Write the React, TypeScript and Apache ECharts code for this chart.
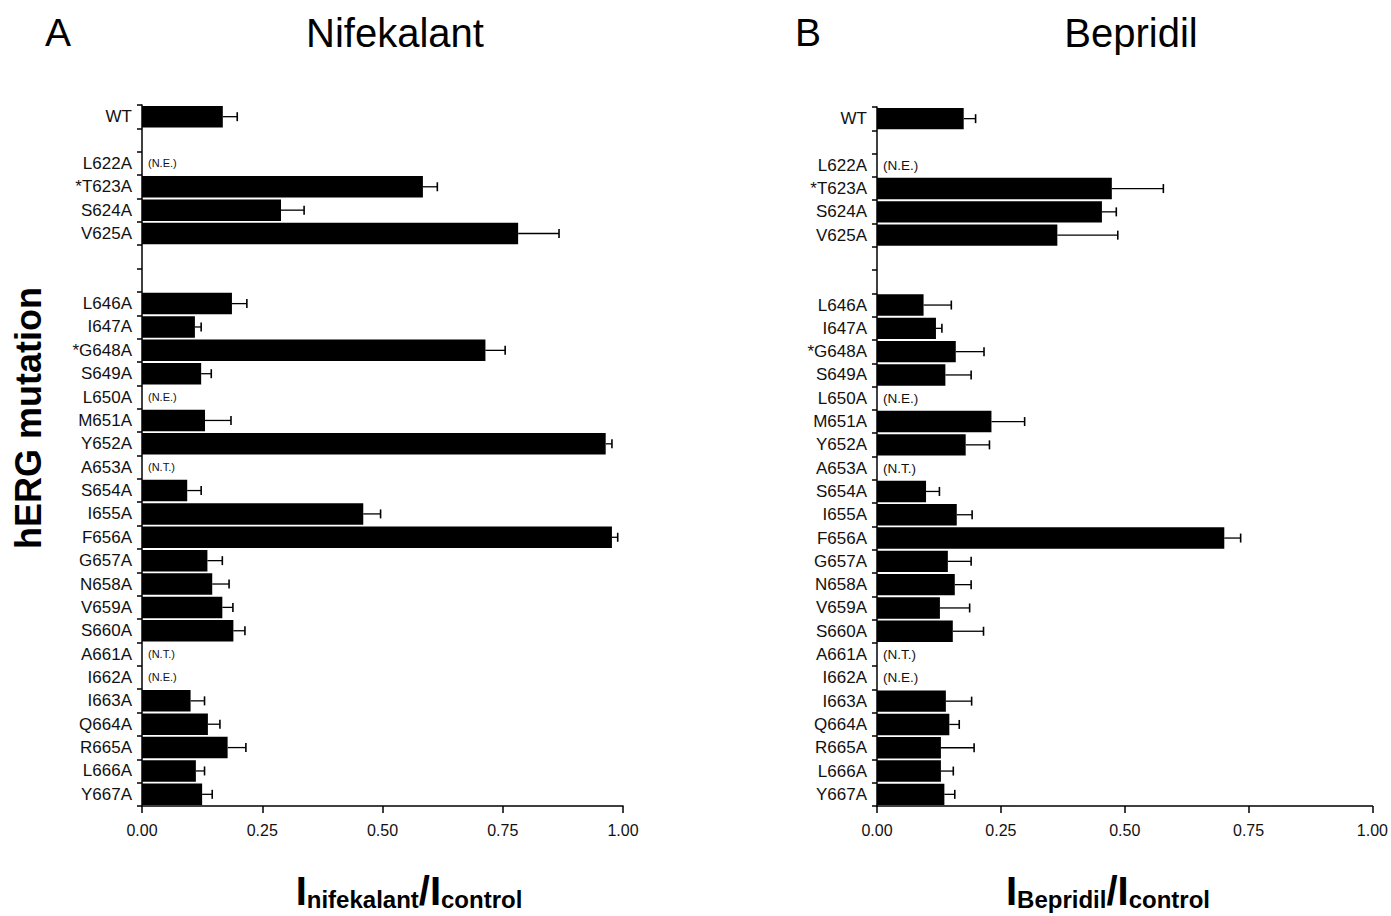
import React, { useEffect, useRef } from 'react';
import * as echarts from 'echarts';

const categories = [
  'WT', '', 'L622A', '*T623A', 'S624A', 'V625A', ' ', '  ',
  'L646A', 'I647A', '*G648A', 'S649A', 'L650A', 'M651A', 'Y652A', 'A653A',
  'S654A', 'I655A', 'F656A', 'G657A', 'N658A', 'V659A', 'S660A', 'A661A',
  'I662A', 'I663A', 'Q664A', 'R665A', 'L666A', 'Y667A',
];

const notes = [
  '', '', '(N.E.)', '', '', '', '', '',
  '', '', '', '', '(N.E.)', '', '', '(N.T.)',
  '', '', '', '', '', '', '', '(N.T.)',
  '(N.E.)', '', '', '', '', '',
];

const nifekalantMean = [
  0.168, null, null, 0.584, 0.289, 0.782, null, null,
  0.187, 0.110, 0.714, 0.123, null, 0.131, 0.964, null,
  0.094, 0.460, 0.977, 0.136, 0.146, 0.167, 0.190, null,
  null, 0.101, 0.137, 0.178, 0.112, 0.125,
];
const nifekalantSem = [
  0.030, null, null, 0.030, 0.048, 0.085, null, null,
  0.031, 0.013, 0.041, 0.021, null, 0.054, 0.013, null,
  0.029, 0.036, 0.012, 0.031, 0.035, 0.022, 0.024, null,
  null, 0.029, 0.025, 0.038, 0.018, 0.021,
];

const bepridilMean = [
  0.175, null, null, 0.474, 0.454, 0.364, null, null,
  0.094, 0.119, 0.159, 0.138, null, 0.231, 0.179, null,
  0.099, 0.161, 0.701, 0.143, 0.157, 0.127, 0.153, null,
  null, 0.139, 0.146, 0.129, 0.129, 0.136,
];
const bepridilSem = [
  0.024, null, null, 0.104, 0.029, 0.122, null, null,
  0.056, 0.012, 0.057, 0.052, null, 0.067, 0.048, null,
  0.027, 0.031, 0.033, 0.047, 0.033, 0.060, 0.062, null,
  null, 0.052, 0.020, 0.067, 0.025, 0.021,
];

const xTicks = [0, 0.25, 0.5, 0.75, 1.0];

const FONT = '"Liberation Sans", Arial, Helvetica, sans-serif';

function errData(means: (number | null)[], sems: (number | null)[]) {
  const out: number[][] = [];
  means.forEach((m, i) => {
    if (m != null && sems[i] != null) out.push([m, i, sems[i] as number]);
  });
  return out;
}

function noteData() {
  const out: number[][] = [];
  notes.forEach((n, i) => {
    if (n) out.push([0, i]);
  });
  return out;
}

export default function App() {
  const ref = useRef<HTMLDivElement>(null);

  useEffect(() => {
    if (!ref.current) return;
    const chart = echarts.init(ref.current, undefined, { renderer: 'svg' });

    const axisLine = { show: true, lineStyle: { color: '#000', width: 1.5 } };

    const makeX = (gridIndex: number) => ({
      type: 'value',
      gridIndex,
      min: xTicks[0],
      max: xTicks[xTicks.length - 1],
      interval: 0.25,
      axisLine,
      axisTick: { show: true, length: 7, lineStyle: { color: '#000', width: 1.5 } },
      axisLabel: {
        formatter: (v: number) => v.toFixed(2),
        fontSize: 16,
        color: '#111',
        margin: 16,
        fontFamily: FONT,
      },
      splitLine: { show: false },
    });

    const makeY = (gridIndex: number) => ({
      type: 'category',
      gridIndex,
      data: categories,
      inverse: true,
      axisLine,
      axisTick: { show: true, interval: 0, length: 5, lineStyle: { color: '#000', width: 1.5 } },
      axisLabel: { interval: 0, fontSize: 17, color: '#111', margin: 10, fontFamily: FONT },
      splitLine: { show: false },
    });

    const errSeries = (idx: number, data: number[][]) => ({
      type: 'custom',
      xAxisIndex: idx,
      yAxisIndex: idx,
      encode: { x: 0, y: 1 },
      data,
      z: 3,
      renderItem: (params: any, api: any) => {
        const v = api.value(0);
        const c = api.value(1);
        const e = api.value(2);
        const p0 = api.coord([v, c]);
        const p1 = api.coord([v + e, c]);
        const h = 4.5;
        return {
          type: 'group',
          children: [
            {
              type: 'line',
              shape: { x1: p0[0], y1: p0[1], x2: p1[0], y2: p1[1] },
              style: { stroke: '#000', lineWidth: 1.3 },
            },
            {
              type: 'line',
              shape: { x1: p1[0], y1: p1[1] - h, x2: p1[0], y2: p1[1] + h },
              style: { stroke: '#000', lineWidth: 1.6 },
            },
          ],
        };
      },
    });

    const noteSeries = (idx: number, size: number) => ({
      type: 'custom',
      xAxisIndex: idx,
      yAxisIndex: idx,
      encode: { x: 0, y: 1 },
      data: noteData(),
      renderItem: (params: any, api: any) => {
        const c = api.value(1);
        const p = api.coord([0, c]);
        return {
          type: 'text',
          x: p[0] + 6,
          y: p[1],
          style: {
            text: notes[c],
            fontSize: size,
            fontFamily: FONT,
            fill: '#111',
            verticalAlign: 'middle',
            align: 'left',
          },
        };
      },
    });

    const barSeries = (idx: number, data: (number | null)[]) => ({
      type: 'bar',
      xAxisIndex: idx,
      yAxisIndex: idx,
      data,
      barCategoryGap: '8%',
      itemStyle: { color: '#000' },
      z: 2,
    });

    const axisTitleRich = {
      b: { fontSize: 40, fontWeight: 'bold', fontFamily: FONT, fill: '#000', lineHeight: 40, verticalAlign: 'top' },
      s: { fontSize: 24, fontWeight: 'bold', fontFamily: FONT, fill: '#000', lineHeight: 26, verticalAlign: 'bottom' },
    };

    chart.setOption({
      animation: false,
      backgroundColor: '#fff',
      grid: [
        { left: 142, top: 105, width: 481, height: 701 },
        { left: 877, top: 107, width: 498, height: 699 },
      ],
      xAxis: [makeX(0), makeX(1)],
      yAxis: [makeY(0), makeY(1)],
      series: [
        barSeries(0, nifekalantMean),
        errSeries(0, errData(nifekalantMean, nifekalantSem)),
        noteSeries(0, 11),
        barSeries(1, bepridilMean),
        errSeries(1, errData(bepridilMean, bepridilSem)),
        noteSeries(1, 13.5),
      ],
      graphic: [
        { type: 'text', left: 45, top: 13, style: { text: 'A', fontSize: 39, fontFamily: FONT, fill: '#000' } },
        { type: 'text', x: 395, y: 33, style: { text: 'Nifekalant', fontSize: 40, fontFamily: FONT, fill: '#000', align: 'center', verticalAlign: 'middle' } },
        { type: 'text', left: 795, top: 13, style: { text: 'B', fontSize: 39, fontFamily: FONT, fill: '#000' } },
        { type: 'text', x: 1131, y: 33, style: { text: 'Bepridil', fontSize: 40, fontFamily: FONT, fill: '#000', align: 'center', verticalAlign: 'middle' } },
        {
          type: 'text',
          x: 28,
          y: 418,
          rotation: Math.PI / 2,
          style: { text: 'hERG mutation', fontSize: 36, fontWeight: 'bold', fontFamily: FONT, fill: '#000', align: 'center', verticalAlign: 'middle' },
        },
        {
          type: 'text',
          x: 409,
          y: 871,
          style: { text: '{b|I}{s|nifekalant}{b|/I}{s|control}', align: 'center', verticalAlign: 'top', rich: axisTitleRich },
        },
        {
          type: 'text',
          x: 1108,
          y: 871,
          style: { text: '{b|I}{s|Bepridil}{b|/I}{s|control}', align: 'center', verticalAlign: 'top', rich: axisTitleRich },
        },
      ],
    });

    return () => chart.dispose();
  }, []);

  return (
    <div
      ref={ref}
      style={{ position: 'absolute', left: 0, top: 0, width: 1391, height: 916, background: '#fff' }}
    />
  );
}
